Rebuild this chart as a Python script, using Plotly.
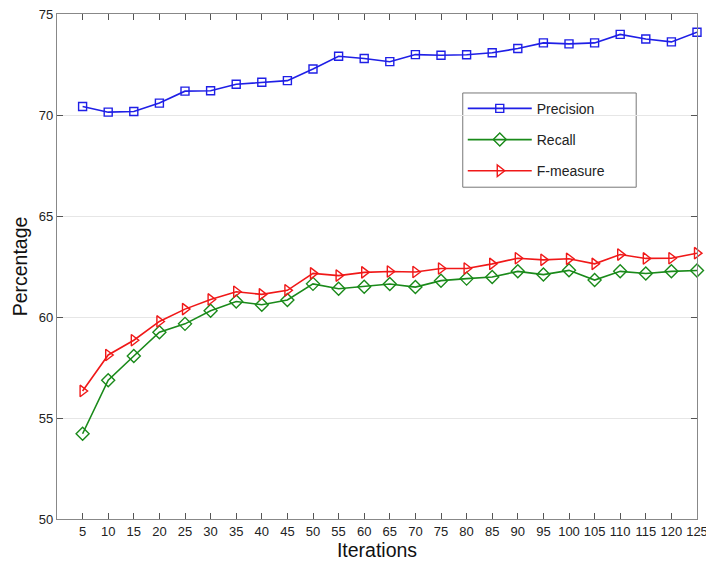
import plotly.graph_objects as go

iterations = list(range(5, 130, 5))
precision = [70.42, 70.14, 70.17, 70.59, 71.18, 71.20, 71.52, 71.62, 71.70, 72.28,
             72.91, 72.80, 72.64, 72.99, 72.96, 72.98, 73.08, 73.29, 73.57, 73.52,
             73.57, 73.99, 73.76, 73.62, 74.10]
recall = [54.22, 56.87, 58.07, 59.25, 59.66, 60.31, 60.77, 60.61, 60.84, 61.64,
          61.40, 61.50, 61.63, 61.48, 61.80, 61.90, 61.98, 62.26, 62.10, 62.31,
          61.83, 62.26, 62.15, 62.26, 62.30]
fmeasure = [56.34, 58.12, 58.85, 59.78, 60.39, 60.87, 61.25, 61.12, 61.32, 62.16,
            62.05, 62.21, 62.25, 62.23, 62.40, 62.40, 62.63, 62.91, 62.83, 62.88,
            62.63, 63.09, 62.90, 62.91, 63.16]
y_ticks = [50, 55, 60, 65, 70, 75]

series = [
    ("Precision", precision, "#1f1fe6", "square-open", 8),
    ("Recall", recall, "#1a8a1a", "diamond-open", 10),
    ("F-measure", fmeasure, "#f01818", "triangle-right-open", 10),
]

fig = go.Figure()
for i, (name, vals, color, sym, size) in enumerate(series):
    fig.add_trace(go.Scatter(
        x=iterations, y=vals, name=name, mode="lines+markers",
        line=dict(color=color, width=1.6),
        marker=dict(symbol=sym, size=size, color=color, line=dict(width=1.4, color=color)),
        legendgroup=f"g{i}", cliponaxis=False,
    ))

FONT = "Liberation Sans, Arial, sans-serif"
axis_font = dict(family=FONT, size=13, color="#222")

# legend frame (wider box like the reference)
fig.add_shape(type="rect", xref="paper", yref="paper",
              x0=0.634, x1=0.905, y0=0.657, y1=0.8436,
              line=dict(color="#777", width=1), fillcolor="white", layer="below")

fig.update_layout(
    width=706, height=563,
    margin=dict(l=57, r=9, t=14, b=44, autoexpand=False),
    paper_bgcolor="white", plot_bgcolor="white",
    showlegend=True,
    legend=dict(
        x=0.634, y=0.844, xanchor="left", yanchor="top",
        borderwidth=0, bgcolor="rgba(0,0,0,0)",
        font=dict(family=FONT, size=14, color="#222"),
        tracegroupgap=10, itemwidth=64,
    ),
    xaxis=dict(
        range=[0, 125.001], tickmode="array", tickvals=iterations,
        ticktext=[str(v) for v in iterations], automargin=False,
        ticks="inside", ticklen=6, tickcolor="#555",
        showline=True, linecolor="#888", linewidth=1.2, mirror="ticks",
        showgrid=False, zeroline=False, tickfont=axis_font, ticklabeloverflow="allow",
        title=dict(text="Iterations", font=dict(family=FONT, size=19.5, color="#111"), standoff=2),
    ),
    yaxis=dict(
        range=[50, 75], tickmode="array", tickvals=y_ticks, automargin=False,
        ticks="inside", ticklen=6, tickcolor="#555",
        showline=True, linecolor="#888", linewidth=1.2, mirror="ticks",
        showgrid=True, gridcolor="#e6e6e6", gridwidth=1, zeroline=False, tickfont=axis_font,
        title=dict(text="Percentage", font=dict(family=FONT, size=19.5, color="#111"), standoff=6),
    ),
)

fig.write_html("out.html", config={"displayModeBar": False},
               post_script="document.body.style.margin='0';")
